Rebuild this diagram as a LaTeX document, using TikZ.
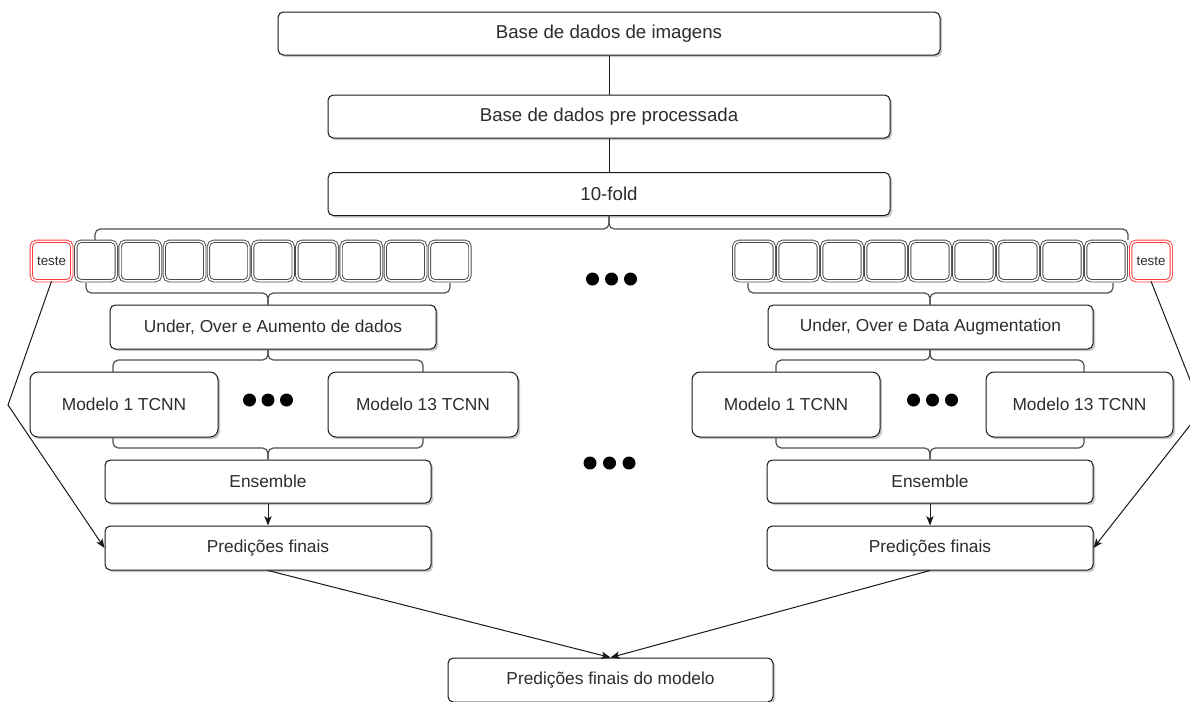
\documentclass[tikz,border=0pt]{standalone}
\usepackage{fontspec}
\setmainfont{Liberation Sans}
\usetikzlibrary{arrows.meta,shadows}

\definecolor{ink}{RGB}{25,25,25}
\definecolor{txt}{RGB}{45,45,45}
\definecolor{slotgray}{RGB}{75,75,75}
\definecolor{testred}{RGB}{255,60,60}
\definecolor{bracegray}{RGB}{80,80,80}

\tikzset{
  box/.style={draw=ink, line width=0.75pt, rounded corners=4pt, fill=white,
    text=txt, inner sep=0pt, font=\fontsize{13}{15}\selectfont,
    drop shadow={shadow xshift=1.6pt, shadow yshift=-1.6pt, opacity=0.3, fill=black!70}},
  topbox/.style={box, font=\fontsize{14}{16}\selectfont},
  modelbox/.style={box, rounded corners=6pt},
  slot/.style={draw=slotgray, double=white, double distance=1.1pt, line width=0.7pt,
    rounded corners=4pt, fill=white, inner sep=0pt,
    minimum width=30.4pt, minimum height=29.65pt},
  testslot/.style={slot, draw=testred, text=txt, font=\fontsize{10}{12}\selectfont},
  link/.style={draw=ink, line width=0.75pt},
  arrow/.style={link, -{Stealth[length=7pt,width=5.5pt,inset=1.8pt]}},
  bracket/.style={draw=bracegray, line width=0.9pt, rounded corners=4pt},
}

% curly bracket: ends x1,x2 at height ye, bar at ym, tip at xt reaching yt
\newcommand{\curlybrace}[6]{%
  \draw[bracket] (#1,#4) -- (#1,#5) -- (#3,#5) -- (#3,#6);
  \draw[bracket] (#2,#4) -- (#2,#5) -- (#3,#5) -- (#3,#6);
}

\begin{document}
\begin{tikzpicture}[x=0.75pt, y=-0.75pt]
  \fill[white] (0,0) rectangle (1190,701);
  \clip (0,0) rectangle (1190,701);

  % pipeline head
  \node[topbox, minimum width=496.5pt, minimum height=32.25pt] (db) at (609,33.5) {Base de dados de imagens};
  \node[topbox, minimum width=421.5pt, minimum height=32.25pt] (pre) at (609,116.5) {Base de dados pre processada};
  \node[topbox, minimum width=421.5pt, minimum height=32.25pt] (fold) at (609,194) {10-fold};
  \draw[link] (db.south) -- (pre.north);
  \draw[link] (pre.south) -- (fold.north);

  % folds, left branch
  \node[testslot] (tL) at (51.5,261) {teste};
  \foreach \i in {0,...,8} \node[slot] (sL\i) at ({96.1+44.2*\i},261) {};
  % folds, right branch
  \foreach \i in {0,...,8} \node[slot] (sR\i) at ({754+44*\i},261) {};
  \node[testslot] (tR) at (1151,261) {teste};

  % split bracket under 10-fold
  \curlybrace{95}{1128}{609}{240}{229}{215.5}

  % dots between the branches
  \foreach \x in {592.5,611.5,630.5} \fill[black] (\x,279) circle (6.5);
  \foreach \x in {590,609.5,629} \fill[black] (\x,463) circle (6.5);

  % left branch
  \node[box, minimum width=244.5pt, minimum height=33pt] (uL) at (273,327) {Under, Over e Aumento de dados};
  \node[modelbox, minimum width=141pt, minimum height=48.75pt] (m1L) at (124,404.5) {Modelo 1 TCNN};
  \node[modelbox, minimum width=142.5pt, minimum height=48.75pt] (m13L) at (423,404.5) {Modelo 13 TCNN};
  \node[box, minimum width=244.5pt, minimum height=32.25pt] (eL) at (268,481.5) {Ensemble};
  \node[box, minimum width=244.5pt, minimum height=33pt] (pL) at (268,548) {Predições finais};
  \foreach \x in {249.5,268,286.5} \fill[black] (\x,400) circle (6.5);
  \curlybrace{86}{450}{268}{283}{293}{304.5}
  \curlybrace{113}{423}{268}{372}{360}{349.5}
  \curlybrace{113}{423}{268}{437}{448}{459.5}

  % right branch
  \node[box, minimum width=243.75pt, minimum height=33pt] (uR) at (930.5,327) {Under, Over e Data Augmentation};
  \node[modelbox, minimum width=141pt, minimum height=48.75pt] (m1R) at (786,404.5) {Modelo 1 TCNN};
  \node[modelbox, minimum width=140.25pt, minimum height=48.75pt] (m13R) at (1079.5,404.5) {Modelo 13 TCNN};
  \node[box, minimum width=244.5pt, minimum height=32.25pt] (eR) at (930,481.5) {Ensemble};
  \node[box, minimum width=244.5pt, minimum height=33pt] (pR) at (930,548) {Predições finais};
  \foreach \x in {913.5,932.5,951.5} \fill[black] (\x,400) circle (6.5);
  \curlybrace{748}{1113}{930}{283}{293}{304.5}
  \curlybrace{776}{1084}{930}{372}{360}{349.5}
  \curlybrace{776}{1084}{930}{437}{448}{459.5}

  % final merge
  \node[box, minimum width=243.75pt, minimum height=33pt] (final) at (610.5,680) {Predições finais do modelo};

  % connectors
  \coordinate (bendL) at (8,405);
  \coordinate (bendR) at (1202,410);
  \draw[arrow] (eL.south) -- (pL.north);
  \draw[arrow] (eR.south) -- (pR.north);
  \draw[arrow] (tL.south) -- (bendL) -- (pL.west);
  \draw[arrow] (tR.south) -- (bendR) -- (pR.east);
  \draw[arrow] (pL.south) -- (final.north);
  \draw[arrow] (pR.south) -- (final.north);
\end{tikzpicture}
\end{document}
